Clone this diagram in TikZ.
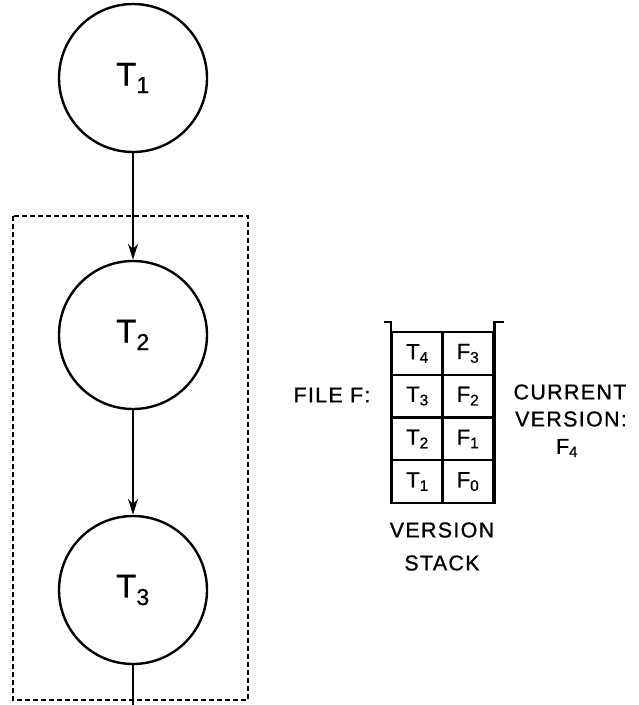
\documentclass[tikz,border=0pt]{standalone}
\usepackage{fontspec}
\setmainfont[LetterSpace=6,FakeBold=0.8]{Liberation Sans}
\usetikzlibrary{arrows.meta}
\begin{document}
\begin{tikzpicture}[x=1pt,y=-1pt,
  proc/.style={circle, draw, line width=2.4pt, minimum size=148pt, inner sep=0pt,
    font=\fontsize{33}{36}\selectfont},
  cell/.style={draw, line width=2.2pt, minimum width=51pt, minimum height=42.75pt,
    inner sep=0pt, font=\fontsize{22}{24}\selectfont},
  lbl/.style={font=\fontsize{21.5}{24}\selectfont, inner sep=0pt},
  flow/.style={line width=2.2pt, -{Stealth[length=16pt,width=10pt]}},
  plain/.style={line width=2.2pt},
  stackline/.style={line width=2.6pt},
  group/.style={dashed, line width=1.6pt, dash pattern=on 5pt off 3pt}
]
\useasboundingbox (0,0) rectangle (638,705);

% process circles
\node[proc] (t1) at (133,78)  {T\textsubscript{1}};
\node[proc] (t2) at (133,335) {T\textsubscript{2}};
\node[proc] (t3) at (133,590) {T\textsubscript{3}};
\coordinate (out) at (133,705);

% dashed group box
\draw[group] (13,216) rectangle (248,700);

% connectors
\draw[flow] (t1.south) -- (t2.north);
\draw[flow] (t2.south) -- (t3.north);
\draw[plain] (t3.south) -- (out);

% version stack cells
\node[cell] (c4l) at (417.5,353.4) {T\textsubscript{4}};
\node[cell] (c4r) at (468,353.4)   {F\textsubscript{3}};
\node[cell] (c3l) at (417.5,396.1) {T\textsubscript{3}};
\node[cell] (c3r) at (468,396.1)   {F\textsubscript{2}};
\node[cell] (c2l) at (417.5,438.9) {T\textsubscript{2}};
\node[cell] (c2r) at (468,438.9)   {F\textsubscript{1}};
\node[cell] (c1l) at (417.5,481.6) {T\textsubscript{1}};
\node[cell] (c1r) at (468,481.6)   {F\textsubscript{0}};

% stack container rim
\draw[stackline] ([xshift=-7pt,yshift=9pt]c4l.north west) -- ([yshift=9pt]c4l.north west) -- (c1l.south west);
\draw[stackline] ([xshift=9pt,yshift=9pt]c4r.north east) -- ([yshift=9pt]c4r.north east) -- (c1r.south east);

% labels
\node[lbl] (file) at (332,395) {FILE F:};
\node[lbl] (cur1) at (570,392) {CURRENT};
\node[lbl] (cur2) at (571,419) {VERSION:};
\node[lbl] (cur3) at (567,448) {F\textsubscript{4}};
\node[lbl] (vs1) at (442,530) {VERSION};
\node[lbl] (vs2) at (442,563) {STACK};
\end{tikzpicture}
\end{document}
